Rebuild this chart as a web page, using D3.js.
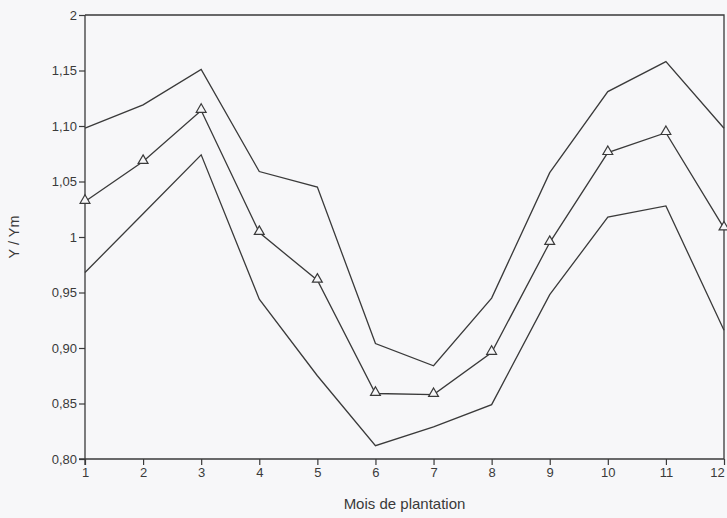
<!DOCTYPE html>
<html>
<head>
<meta charset="utf-8">
<script src="https://cdn.jsdelivr.net/npm/d3@7"></script>
<style>
  html, body { margin: 0; padding: 0; background: #f7f7f9; }
  svg { display: block; }
  text { font-family: "Liberation Sans", Arial, sans-serif; fill: #3a3a3a; }
</style>
</head>
<body>
<svg id="chart" width="727" height="518"></svg>
<script>
// Data
const months = [1, 2, 3, 4, 5, 6, 7, 8, 9, 10, 11, 12];
const upper  = [1.098, 1.119, 1.151, 1.059, 1.045, 0.904, 0.884, 0.945, 1.058, 1.131, 1.158, 1.098];
const middle = [1.032, 1.068, 1.114, 1.004, 0.961, 0.859, 0.858, 0.896, 0.995, 1.076, 1.094, 1.008];
const lower  = [0.968, 1.021, 1.074, 0.944, 0.875, 0.812, 0.829, 0.849, 0.948, 1.018, 1.028, 0.916];
const yTickValues = [0.80, 0.85, 0.90, 0.95, 1.00, 1.05, 1.10, 1.15, 1.20];
const yTickLabels = ["0,80", "0,85", "0,90", "0,95", "1", "1,05", "1,10", "1,15", "2"];
const xLabel = "Mois de plantation";
const yLabel = "Y / Ym";

const ink = "#3a3a3a";
const svg = d3.select("#chart");
const margin = { left: 85, right: 3, top: 15, bottom: 59 };
const W = 727, H = 518;

const x = d3.scaleLinear().domain([1, 12]).range([margin.left, W - margin.right]);
const y = d3.scaleLinear().domain([0.80, 1.20]).range([H - margin.bottom, margin.top]);

// Frame (top and right)
svg.append("path")
  .attr("d", `M${x(1)},${y(1.20)}H${x(12)}V${y(0.80)}`)
  .attr("fill", "none").attr("stroke", ink).attr("stroke-width", 1.3);

// Y axis
const yAxis = d3.axisLeft(y)
  .tickValues(yTickValues)
  .tickFormat((d, i) => yTickLabels[i])
  .tickSize(6).tickPadding(2);
const gy = svg.append("g").attr("transform", `translate(${x(1)},0)`).call(yAxis);
gy.select(".domain").attr("stroke", ink).attr("stroke-width", 1.3).attr("d", `M0,${y(1.20)}V${y(0.80) + 6}`);
gy.selectAll(".tick line").attr("stroke", ink).attr("stroke-width", 1.2);
gy.selectAll(".tick text").attr("font-size", 13).style("fill", ink);

// X axis
const xAxis = d3.axisBottom(x).tickValues(months).tickFormat(d3.format("d")).tickSize(6).tickPadding(3);
const gx = svg.append("g").attr("transform", `translate(0,${y(0.80)})`).call(xAxis);
gx.select(".domain").attr("stroke", ink).attr("stroke-width", 1.3).attr("d", `M${x(1) - 6},0H${x(12)}`);
gx.selectAll(".tick line").attr("stroke", ink).attr("stroke-width", 1.2);
gx.selectAll(".tick text").attr("font-size", 13).style("fill", ink)
  .attr("dx", d => d === 12 ? -7 : 0);

// Axis titles
svg.append("text")
  .attr("x", x(6.5)).attr("y", 509)
  .attr("text-anchor", "middle").attr("font-size", 15)
  .text(xLabel);
svg.append("text")
  .attr("transform", `translate(19,${y(1.0)}) rotate(-90)`)
  .attr("text-anchor", "middle").attr("font-size", 14.5)
  .text(yLabel);

// Lines
const line = d3.line().x((d, i) => x(months[i])).y(d => y(d));
[upper, middle, lower].forEach(series => {
  svg.append("path")
    .datum(series)
    .attr("d", line)
    .attr("fill", "none")
    .attr("stroke", ink)
    .attr("stroke-width", 1.3)
    .attr("stroke-linejoin", "miter");
});

// Triangle markers on middle line
const tri = d3.symbol().type(d3.symbolTriangle).size(42);
svg.append("g").selectAll("path")
  .data(middle)
  .join("path")
  .attr("d", tri)
  .attr("transform", (d, i) => `translate(${x(months[i])},${y(d) - 1})`)
  .attr("fill", "#f7f7f9")
  .attr("stroke", ink)
  .attr("stroke-width", 1.2);
</script>
</body>
</html>
